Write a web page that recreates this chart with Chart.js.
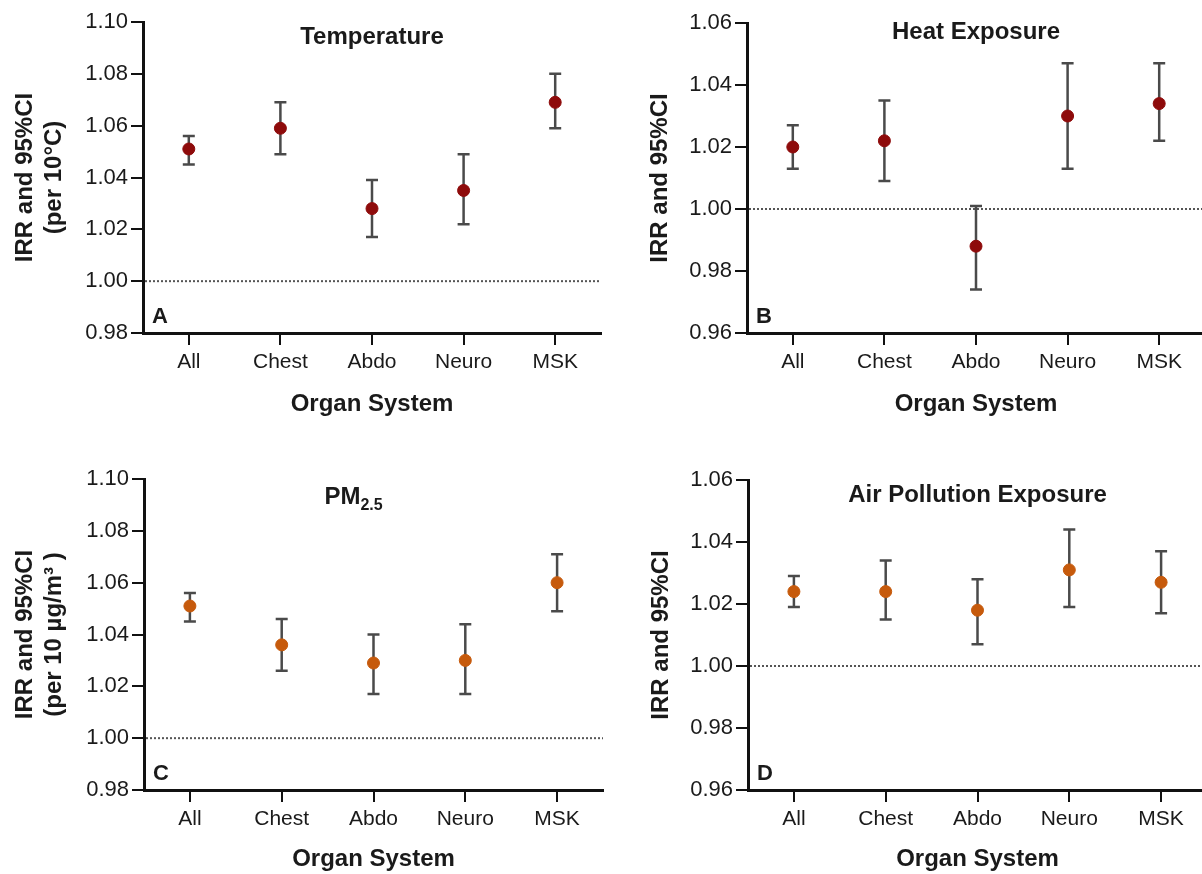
<!DOCTYPE html>
<html>
<head>
<meta charset="utf-8">
<title>IRR and 95%CI by organ system</title>
<script src="https://cdn.jsdelivr.net/npm/chart.js@4.4.1/dist/chart.umd.min.js"></script>
<style>
    html, body { margin: 0; padding: 0; background: #fff; overflow: hidden; }
    #wrap { position: relative; width: 1202px; height: 874px; overflow: hidden; }
    canvas { position: absolute; }
</style>
</head>
<body>
<div id="wrap">
    <canvas id="chartA" width="608" height="440" style="left:0;top:0"></canvas>
    <canvas id="chartB" width="612" height="440" style="left:600px;top:0"></canvas>
    <canvas id="chartC" width="610" height="434" style="left:0;top:440px"></canvas>
    <canvas id="chartD" width="614" height="434" style="left:600px;top:440px"></canvas>
</div>
<script>
// Data
const categories = ['All', 'Chest', 'Abdo', 'Neuro', 'MSK'];

const tempIRR  = [1.051, 1.059, 1.028, 1.035, 1.069];
const tempLow  = [1.045, 1.049, 1.017, 1.022, 1.059];
const tempHigh = [1.056, 1.069, 1.039, 1.049, 1.080];

const heatIRR  = [1.020, 1.022, 0.988, 1.030, 1.034];
const heatLow  = [1.013, 1.009, 0.974, 1.013, 1.022];
const heatHigh = [1.027, 1.035, 1.001, 1.047, 1.047];

const pmIRR  = [1.051, 1.036, 1.029, 1.030, 1.060];
const pmLow  = [1.045, 1.026, 1.017, 1.017, 1.049];
const pmHigh = [1.056, 1.046, 1.040, 1.044, 1.071];

const airIRR  = [1.024, 1.024, 1.018, 1.031, 1.027];
const airLow  = [1.019, 1.015, 1.007, 1.019, 1.017];
const airHigh = [1.029, 1.034, 1.028, 1.044, 1.037];

const ticksWide   = [0.98, 1.00, 1.02, 1.04, 1.06, 1.08, 1.10];
const ticksNarrow = [0.96, 0.98, 1.00, 1.02, 1.04, 1.06];

const RED = '#8e0b0b';
const ORANGE = '#c65a0c';
const FONT = '"Liberation Sans", Arial, Helvetica, sans-serif';

Chart.defaults.font.family = FONT;
Chart.defaults.color = '#1a1a1a';

document.addEventListener('DOMContentLoaded', function() {
    makePanel('chartA', {
        irr: tempIRR, low: tempLow, high: tempHigh, yTicks: ticksWide, color: RED,
        yTitle: ['IRR and 95%CI', '(per 10°C)'], yTitlePad: 11,
        title: [{ text: 'Temperature' }], titleDx: 0, titleDy: 15, letter: 'A',
        yWidth: 143, padTop: 22, xHeight: 107, labelPad: 5, xTitlePad: 21
    });
    makePanel('chartB', {
        irr: heatIRR, low: heatLow, high: heatHigh, yTicks: ticksNarrow, color: RED,
        yTitle: 'IRR and 95%CI', yTitlePad: 46,
        title: [{ text: 'Heat Exposure' }], titleDx: 0, titleDy: 9, letter: 'B',
        yWidth: 147, padTop: 23, xHeight: 107, labelPad: 5, xTitlePad: 21
    });
    makePanel('chartC', {
        irr: pmIRR, low: pmLow, high: pmHigh, yTicks: ticksWide, color: ORANGE,
        yTitle: ['IRR and 95%CI', '(per 10 µg/m³ )'], yTitlePad: 11,
        title: [{ text: 'PM' }, { text: '2.5', sub: true }], titleDx: -20, titleDy: 18, letter: 'C',
        yWidth: 144, padTop: 39, xHeight: 84, labelPad: 5, xTitlePad: 0
    });
    makePanel('chartD', {
        irr: airIRR, low: airLow, high: airHigh, yTicks: ticksNarrow, color: ORANGE,
        yTitle: 'IRR and 95%CI', yTitlePad: 47,
        title: [{ text: 'Air Pollution Exposure' }], titleDx: 0, titleDy: 15, letter: 'D',
        yWidth: 148, padTop: 40, xHeight: 84, labelPad: 5, xTitlePad: 0
    });
});

// Draws the dotted IRR = 1 line, the CI whiskers, the inner title and the panel letter
function makeOverlay(panel) {
    return {
        id: 'overlay',
        beforeDatasetsDraw(chart) {
            const { ctx, chartArea, scales: { x, y } } = chart;
            ctx.save();

            const y1 = y.getPixelForValue(1);
            ctx.strokeStyle = '#555';
            ctx.lineWidth = 2;
            ctx.setLineDash([2, 2]);
            ctx.beginPath();
            ctx.moveTo(chartArea.left + 2, y1);
            ctx.lineTo(chartArea.right, y1);
            ctx.stroke();
            ctx.setLineDash([]);

            ctx.strokeStyle = '#4a4a4a';
            ctx.lineWidth = 2.5;
            panel.low.forEach(function(lo, i) {
                const px = x.getPixelForValue(i);
                const top = y.getPixelForValue(panel.high[i]);
                const bot = y.getPixelForValue(lo);
                ctx.beginPath();
                ctx.moveTo(px, top);
                ctx.lineTo(px, bot);
                ctx.moveTo(px - 6, top);
                ctx.lineTo(px + 6, top);
                ctx.moveTo(px - 6, bot);
                ctx.lineTo(px + 6, bot);
                ctx.stroke();
            });
            ctx.restore();
        },
        afterDraw(chart) {
            const { ctx, chartArea } = chart;
            ctx.save();
            ctx.fillStyle = '#1a1a1a';
            ctx.textBaseline = 'middle';
            ctx.textAlign = 'left';

            // title, possibly with a subscript part
            const parts = panel.title.map(function(p) {
                const font = p.sub ? 'bold 16px ' + FONT : 'bold 24px ' + FONT;
                ctx.font = font;
                return { text: p.text, sub: p.sub, font: font, w: ctx.measureText(p.text).width };
            });
            const total = parts.reduce(function(s, p) { return s + p.w; }, 0);
            let tx = (chartArea.left + chartArea.right) / 2 + panel.titleDx - total / 2;
            const ty = chartArea.top + panel.titleDy;
            parts.forEach(function(p) {
                ctx.font = p.font;
                ctx.fillText(p.text, tx, p.sub ? ty + 9 : ty);
                tx += p.w;
            });

            ctx.font = 'bold 22px ' + FONT;
            ctx.textBaseline = 'alphabetic';
            ctx.fillText(panel.letter, chartArea.left + 9, chartArea.bottom - 10);
            ctx.restore();
        }
    };
}

function makePanel(canvasId, panel) {
    const canvas = document.getElementById(canvasId);
    if (!canvas) return;

    const points = categories.map(function(c, i) {
        return { x: i, y: panel.irr[i] };
    });

    new Chart(canvas, {
        type: 'scatter',
        data: {
            datasets: [{
                data: points,
                backgroundColor: panel.color,
                borderColor: panel.color,
                borderWidth: 1,
                pointRadius: 6,
                pointHoverRadius: 6
            }]
        },
        options: {
            responsive: false,
            animation: false,
            events: [],
            layout: { padding: { top: panel.padTop, left: 0, right: 0, bottom: 0 } },
            plugins: {
                legend: { display: false },
                tooltip: { enabled: false }
            },
            scales: {
                x: {
                    type: 'linear',
                    min: -0.5,
                    max: 4.5,
                    afterBuildTicks: function(scale) {
                        scale.ticks = categories.map(function(c, i) { return { value: i }; });
                    },
                    afterFit: function(scale) { scale.height = panel.xHeight; },
                    grid: {
                        drawOnChartArea: false,
                        drawTicks: true,
                        tickLength: 12,
                        color: '#111',
                        lineWidth: 2
                    },
                    border: { display: true, color: '#111', width: 3 },
                    ticks: {
                        autoSkip: false,
                        maxRotation: 0,
                        padding: panel.labelPad,
                        font: { size: 21 },
                        color: '#1a1a1a',
                        callback: function(v) { return categories[v]; }
                    },
                    title: {
                        display: true,
                        text: 'Organ System',
                        font: { size: 24, weight: 'bold' },
                        color: '#1a1a1a',
                        padding: { top: 0, bottom: panel.xTitlePad }
                    }
                },
                y: {
                    min: panel.yTicks[0],
                    max: panel.yTicks[panel.yTicks.length - 1],
                    afterBuildTicks: function(scale) {
                        scale.ticks = panel.yTicks.map(function(v) { return { value: v }; });
                    },
                    afterFit: function(scale) { scale.width = panel.yWidth; },
                    grid: {
                        drawOnChartArea: false,
                        drawTicks: true,
                        tickLength: 12,
                        color: '#111',
                        lineWidth: 2
                    },
                    border: { display: true, color: '#111', width: 3 },
                    ticks: {
                        padding: 3,
                        font: { size: 22 },
                        color: '#1a1a1a',
                        callback: function(v) { return v.toFixed(2); }
                    },
                    title: {
                        display: true,
                        text: panel.yTitle,
                        font: { size: 24, weight: 'bold' },
                        color: '#1a1a1a',
                        padding: { top: panel.yTitlePad, bottom: 0 }
                    }
                }
            }
        },
        plugins: [makeOverlay(panel)]
    });
}
</script>
</body>
</html>
